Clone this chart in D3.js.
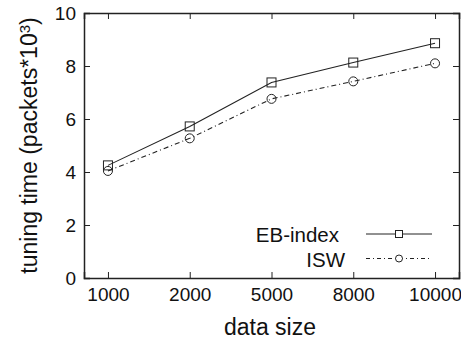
<!DOCTYPE html>
<html>
<head>
<meta charset="utf-8">
<script src="https://cdn.jsdelivr.net/npm/d3@7"></script>
<style>
body { margin: 0; background: #fff; }
text { font-family: "Liberation Sans", Arial, sans-serif; fill: #111; }
</style>
</head>
<body>
<svg></svg>
<script>
var sizes = ["1000", "2000", "5000", "8000", "10000"];
var ebIndex = [4.25, 5.72, 7.38, 8.13, 8.86];
var isw = [4.04, 5.27, 6.76, 7.42, 8.1];
var yTicks = [0, 2, 4, 6, 8, 10];

var screen = {width: 461, height: 343};
var margins = {top: 13, right: 2, bottom: 65, left: 84};

var svg = d3.select("svg")
    .attr("width", screen.width)
    .attr("height", screen.height);

var width = screen.width - margins.left - margins.right;
var height = screen.height - margins.top - margins.bottom;

var g = svg.append("g")
    .attr("transform", "translate(" + margins.left + "," + margins.top + ")");

var xScale = d3.scalePoint().domain(sizes).range([0, width]).padding(0.293);
var yScale = d3.scaleLinear().domain([0, 10]).range([height, 0]);

// axes, ticks pointing inward and mirrored
var bottomAxis = g.append("g")
    .attr("transform", "translate(0," + height + ")")
    .call(d3.axisBottom(xScale).tickSize(-6).tickPadding(10));
var topAxis = g.append("g")
    .call(d3.axisTop(xScale).tickSize(-6).tickFormat(""));
var leftAxis = g.append("g")
    .call(d3.axisLeft(yScale).tickValues(yTicks).tickSize(-6).tickPadding(8));
var rightAxis = g.append("g")
    .attr("transform", "translate(" + width + ",0)")
    .call(d3.axisRight(yScale).tickValues(yTicks).tickSize(-6).tickFormat(""));

[bottomAxis, topAxis, leftAxis, rightAxis].forEach(function(a) {
    a.select(".domain").attr("stroke", "#222").attr("stroke-width", 1.5);
    a.selectAll(".tick line").attr("stroke", "#222").attr("stroke-width", 1);
    a.selectAll(".tick text").style("font-size", "19px").attr("fill", "#111");
});
bottomAxis.selectAll(".tick text").attr("dy", "0.71em");

var line = d3.line()
    .x(function(d, i) { return xScale(sizes[i]); })
    .y(function(d) { return yScale(d); });

g.append("path").datum(ebIndex)
    .attr("d", line).attr("fill", "none")
    .attr("stroke", "#222").attr("stroke-width", 1.1);

g.append("path").datum(isw)
    .attr("d", line).attr("fill", "none")
    .attr("stroke", "#222").attr("stroke-width", 1.1)
    .attr("stroke-dasharray", "5,3,1,3");

g.selectAll(".sq").data(ebIndex).enter().append("rect")
    .attr("x", function(d, i) { return xScale(sizes[i]) - 4.5; })
    .attr("y", function(d) { return yScale(d) - 4.5; })
    .attr("width", 9).attr("height", 9)
    .attr("fill", "none").attr("stroke", "#222");

g.selectAll(".ci").data(isw).enter().append("circle")
    .attr("cx", function(d, i) { return xScale(sizes[i]); })
    .attr("cy", function(d) { return yScale(d); })
    .attr("r", 4.5)
    .attr("fill", "none").attr("stroke", "#222");

// legend
var legend = svg.append("g");
legend.append("text").attr("x", 339).attr("y", 242)
    .attr("text-anchor", "end").style("font-size", "20.5px").text("EB-index");
legend.append("line").attr("x1", 366).attr("x2", 432).attr("y1", 234).attr("y2", 234)
    .attr("stroke", "#222");
legend.append("rect").attr("x", 395.5).attr("y", 230.5).attr("width", 7).attr("height", 7)
    .attr("fill", "#fff").attr("stroke", "#222");

legend.append("text").attr("x", 345).attr("y", 267)
    .attr("text-anchor", "end").style("font-size", "20.5px").text("ISW");
legend.append("line").attr("x1", 366).attr("x2", 432).attr("y1", 258.5).attr("y2", 258.5)
    .attr("stroke", "#222").attr("stroke-dasharray", "4,3,1,3");
legend.append("circle").attr("cx", 399).attr("cy", 258.5).attr("r", 3.5)
    .attr("fill", "#fff").attr("stroke", "#222");

// axis titles
svg.append("text")
    .attr("x", 270).attr("y", 335)
    .attr("text-anchor", "middle").style("font-size", "23px")
    .text("data size");

var yTitle = svg.append("text")
    .attr("transform", "translate(37," + (margins.top + height / 2) + ") rotate(-90)")
    .attr("text-anchor", "middle").style("font-size", "23px");
yTitle.append("tspan").text("tuning time (packets*10");
yTitle.append("tspan").attr("dy", "-0.45em").style("font-size", "15px").text("3");
yTitle.append("tspan").attr("dy", "0.3em").text(")");
</script>
</body>
</html>
